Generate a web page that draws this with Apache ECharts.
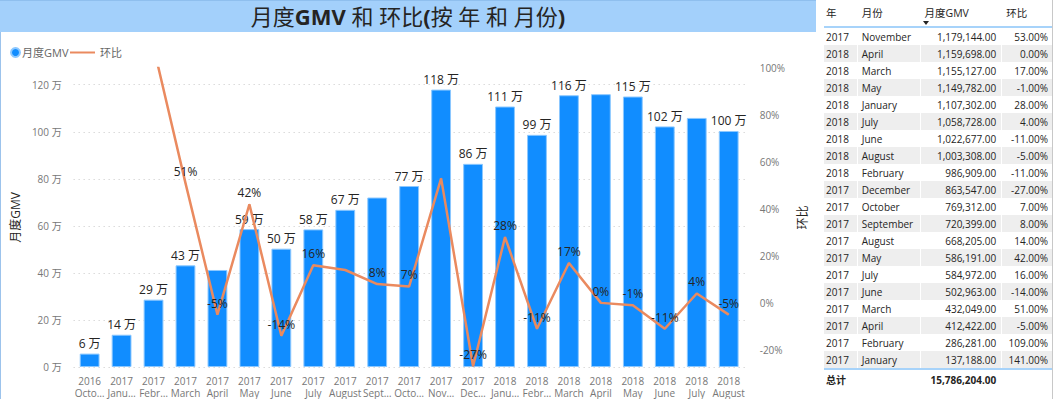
<!DOCTYPE html>
<html>
<head>
<meta charset="utf-8">
<script src="https://cdn.jsdelivr.net/npm/echarts@6/dist/echarts.min.js"></script>
<style>
  html, body { margin: 0; padding: 0; background: #fff; }
  body { width: 1056px; height: 399px; position: relative; overflow: hidden;
         font-family: 'Segoe UI', 'Open Sans', 'Noto Sans CJK SC', sans-serif; }
  #chart { position: absolute; left: 0; top: 0; width: 816px; height: 399px;
           border-left: 1px solid #9cc3ec; box-sizing: border-box; }
  #banner { position: absolute; left: 0; top: 0; width: 816px; height: 32px;
            background: #a3d0fb; border-top: 1px solid #8fbfee; box-sizing: border-box;
            text-align: center; font-size: 22px; line-height: 30px; color: #252423; z-index: 2; }
  #banner b { font-weight: 700; }
  #tablePanel { position: absolute; left: 818px; top: 0; width: 235px; height: 399px;
                border-right: 1px solid #c8c8c8; box-sizing: border-box; }
  table { position: absolute; left: 6px; top: 0; border-collapse: collapse;
          font-family: 'Open Sans', 'Noto Sans CJK SC', sans-serif; font-size: 10px; color: #252423; }
  td, th { padding: 0; height: 17px; white-space: nowrap; border-left: 1px solid #fff; }
  td:first-child, th:first-child { border-left: none; }
  thead th { height: 27px; font-weight: normal; font-size: 10.5px; text-align: left;
             border-bottom: 2px solid #a7d3fa; vertical-align: top; padding-top: 5px; box-sizing: border-box; }
  tbody tr:nth-child(even) td { background: #eeeeee; }
  tfoot td { height: 19px; font-weight: 700; border-top: 2px solid #a7d3fa; }
  .c1 { width: 31px; padding-left: 2px; }
  .c2 { width: 58px; padding-left: 4px; }
  .c3 { width: 76px; padding-right: 5px; text-align: right; }
  .c4 { width: 46px; padding-right: 4px; text-align: right; }
  th.c3, th.c4 { text-align: left; padding-left: 4px; padding-right: 0; }
  .sort { position: absolute; left: 105px; top: 21px; width: 0; height: 0;
          border-left: 3.5px solid transparent; border-right: 3.5px solid transparent;
          border-top: 4px solid #252423; }
</style>
</head>
<body>
<div id="chart"></div>
<div id="banner">月度<b>GMV</b> 和 环比<b>(</b>按 年 和 月份<b>)</b></div>
<div id="tablePanel">
  <table id="tbl">
    <thead><tr><th class="c1">年</th><th class="c2">月份</th><th class="c3">月度GMV</th><th class="c4">环比</th></tr></thead>
    <tbody></tbody>
    <tfoot></tfoot>
  </table>
  <div class="sort"></div>
</div>
<script>
var years = ['2016', '2017', '2017', '2017', '2017', '2017', '2017', '2017', '2017', '2017', '2017', '2017', '2017',
             '2018', '2018', '2018', '2018', '2018', '2018', '2018', '2018'];
var months = ['October', 'January', 'February', 'March', 'April', 'May', 'June', 'July', 'August', 'September',
              'October', 'November', 'December', 'January', 'February', 'March', 'April', 'May', 'June', 'July', 'August'];
var monthTicks = ['Octo…', 'Janu…', 'Febr…', 'March', 'April', 'May', 'June', 'July', 'August', 'Sept…',
                  'Octo…', 'Nov…', 'Dec…', 'Janu…', 'Febr…', 'March', 'April', 'May', 'June', 'July', 'August'];
var gmv = [56924, 137188, 286281, 432049, 412422, 586191, 502963, 584972, 668205, 720399, 769312,
           1179144, 863547, 1107302, 986909, 1155127, 1159698, 1149782, 1022677, 1058728, 1003308];
var mom = [null, 141, 109, 51, -5, 42, -14, 16, 14, 8, 7, 53, -27, 28, -11, 17, 0, -1, -11, 4, -5];
var momTicks = [-20, 0, 20, 40, 60, 80, 100];
// labels Power BI dropped because of overlap
var hiddenBarLabels = [4, 9, 16, 19];
var hiddenLineLabels = [1, 2, 8, 11];

var categories = years.map(function (y, i) { return y + '\n' + monthTicks[i]; });

var FONT = "'Segoe UI', 'Open Sans', 'Noto Sans CJK SC', sans-serif";

var barData = gmv.map(function (v, i) {
  return hiddenBarLabels.indexOf(i) >= 0 ? { value: v, label: { show: false } } : v;
});
var lineData = mom.map(function (v, i) {
  return hiddenLineLabels.indexOf(i) >= 0 ? { value: v, label: { show: false } } : v;
});

var myChart = echarts.init(document.getElementById('chart'), null, { renderer: 'svg' });
var option = {
  textStyle: { fontFamily: FONT },
  animation: false,
  legend: [
    {
      data: [{ name: '月度GMV', icon: 'circle' }],
      left: 4, top: 42, itemWidth: 9, itemHeight: 9, itemGap: 4,
      textStyle: { fontSize: 11, color: '#666', padding: [0, 0, 0, -3] }
    },
    {
      data: [{ name: '环比', icon: 'rect' }],
      left: 64, top: 42, itemWidth: 25, itemHeight: 2,
      textStyle: { fontSize: 11, color: '#666' }
    }
  ],
  grid: { left: 67.6, right: 60.1, top: 68, bottom: 31.5 },
  xAxis: {
    type: 'category',
    data: categories,
    axisLine: { show: false },
    axisTick: { show: false },
    axisLabel: { interval: 0, color: '#777', fontSize: 10, lineHeight: 12, margin: 8 }
  },
  yAxis: [
    {
      type: 'value',
      min: 0, max: 1271000, interval: 200000,
      name: '月度GMV', nameLocation: 'middle', nameGap: 48,
      nameTextStyle: { fontSize: 12, color: '#252423' },
      axisLine: { show: false }, axisTick: { show: false },
      axisLabel: {
        color: '#777', fontSize: 10, margin: 12,
        formatter: function (v) { return v % 200000 === 0 ? (v / 10000) + ' 万' : ''; }
      },
      splitLine: {
        lineStyle: {
          type: [1, 4], width: 1,
          color: ['#c8c8c8', '#c8c8c8', '#c8c8c8', '#c8c8c8', '#c8c8c8', '#c8c8c8', '#c8c8c8', 'rgba(0,0,0,0)']
        }
      }
    },
    {
      type: 'value',
      min: -27.3, max: 100,
      name: '环比', nameLocation: 'middle', nameGap: 42, nameRotate: 90,
      nameTextStyle: { fontSize: 12, color: '#252423' },
      axisLine: { show: false }, axisTick: { show: false },
      axisLabel: {
        customValues: momTicks,
        color: '#777', fontSize: 10, margin: 15,
        formatter: function (v) { return Math.round(v) + '%'; }
      },
      splitLine: { show: false }
    }
  ],
  series: [
    {
      name: '月度GMV',
      type: 'bar',
      data: barData,
      barWidth: '62%',
      itemStyle: { color: '#118dff', borderColor: '#8cc8ff', borderWidth: 1 },
      label: {
        show: true, position: 'top', distance: 4,
        fontSize: 12, color: '#252423',
        formatter: function (p) { return Math.round(p.value / 10000) + ' 万'; }
      }
    },
    {
      name: '环比',
      type: 'line',
      yAxisIndex: 1,
      data: lineData,
      clip: true,
      symbol: 'circle', symbolSize: 1, showSymbol: true,
      lineStyle: { color: '#ea8a5f', width: 2.5 },
      itemStyle: { color: '#ea8a5f' },
      label: {
        show: true, position: 'top', distance: 5,
        fontSize: 12, color: '#252423',
        formatter: function (p) { return p.value + '%'; }
      },
      z: 3
    }
  ]
};
myChart.setOption(option);

// table: 2017-2018 rows sorted by GMV, built from the same arrays
function fmt(n) {
  return n.toLocaleString('en-US', { minimumFractionDigits: 2, maximumFractionDigits: 2 });
}
var rows = [];
for (var i = 0; i < gmv.length; i++) {
  if (years[i] === '2016') continue;
  rows.push({ y: years[i], m: months[i], g: gmv[i], r: mom[i] });
}
rows.sort(function (a, b) { return b.g - a.g; });
var body = '';
var total = 0;
rows.forEach(function (r) {
  total += r.g;
  body += '<tr><td class="c1">' + r.y + '</td><td class="c2">' + r.m + '</td><td class="c3">' + fmt(r.g) +
          '</td><td class="c4">' + r.r.toFixed(2) + '%</td></tr>';
});
document.querySelector('#tbl tbody').innerHTML = body;
document.querySelector('#tbl tfoot').innerHTML =
  '<tr><td class="c1">总计</td><td class="c2"></td><td class="c3">' + fmt(total) + '</td><td class="c4"></td></tr>';
</script>
</body>
</html>
